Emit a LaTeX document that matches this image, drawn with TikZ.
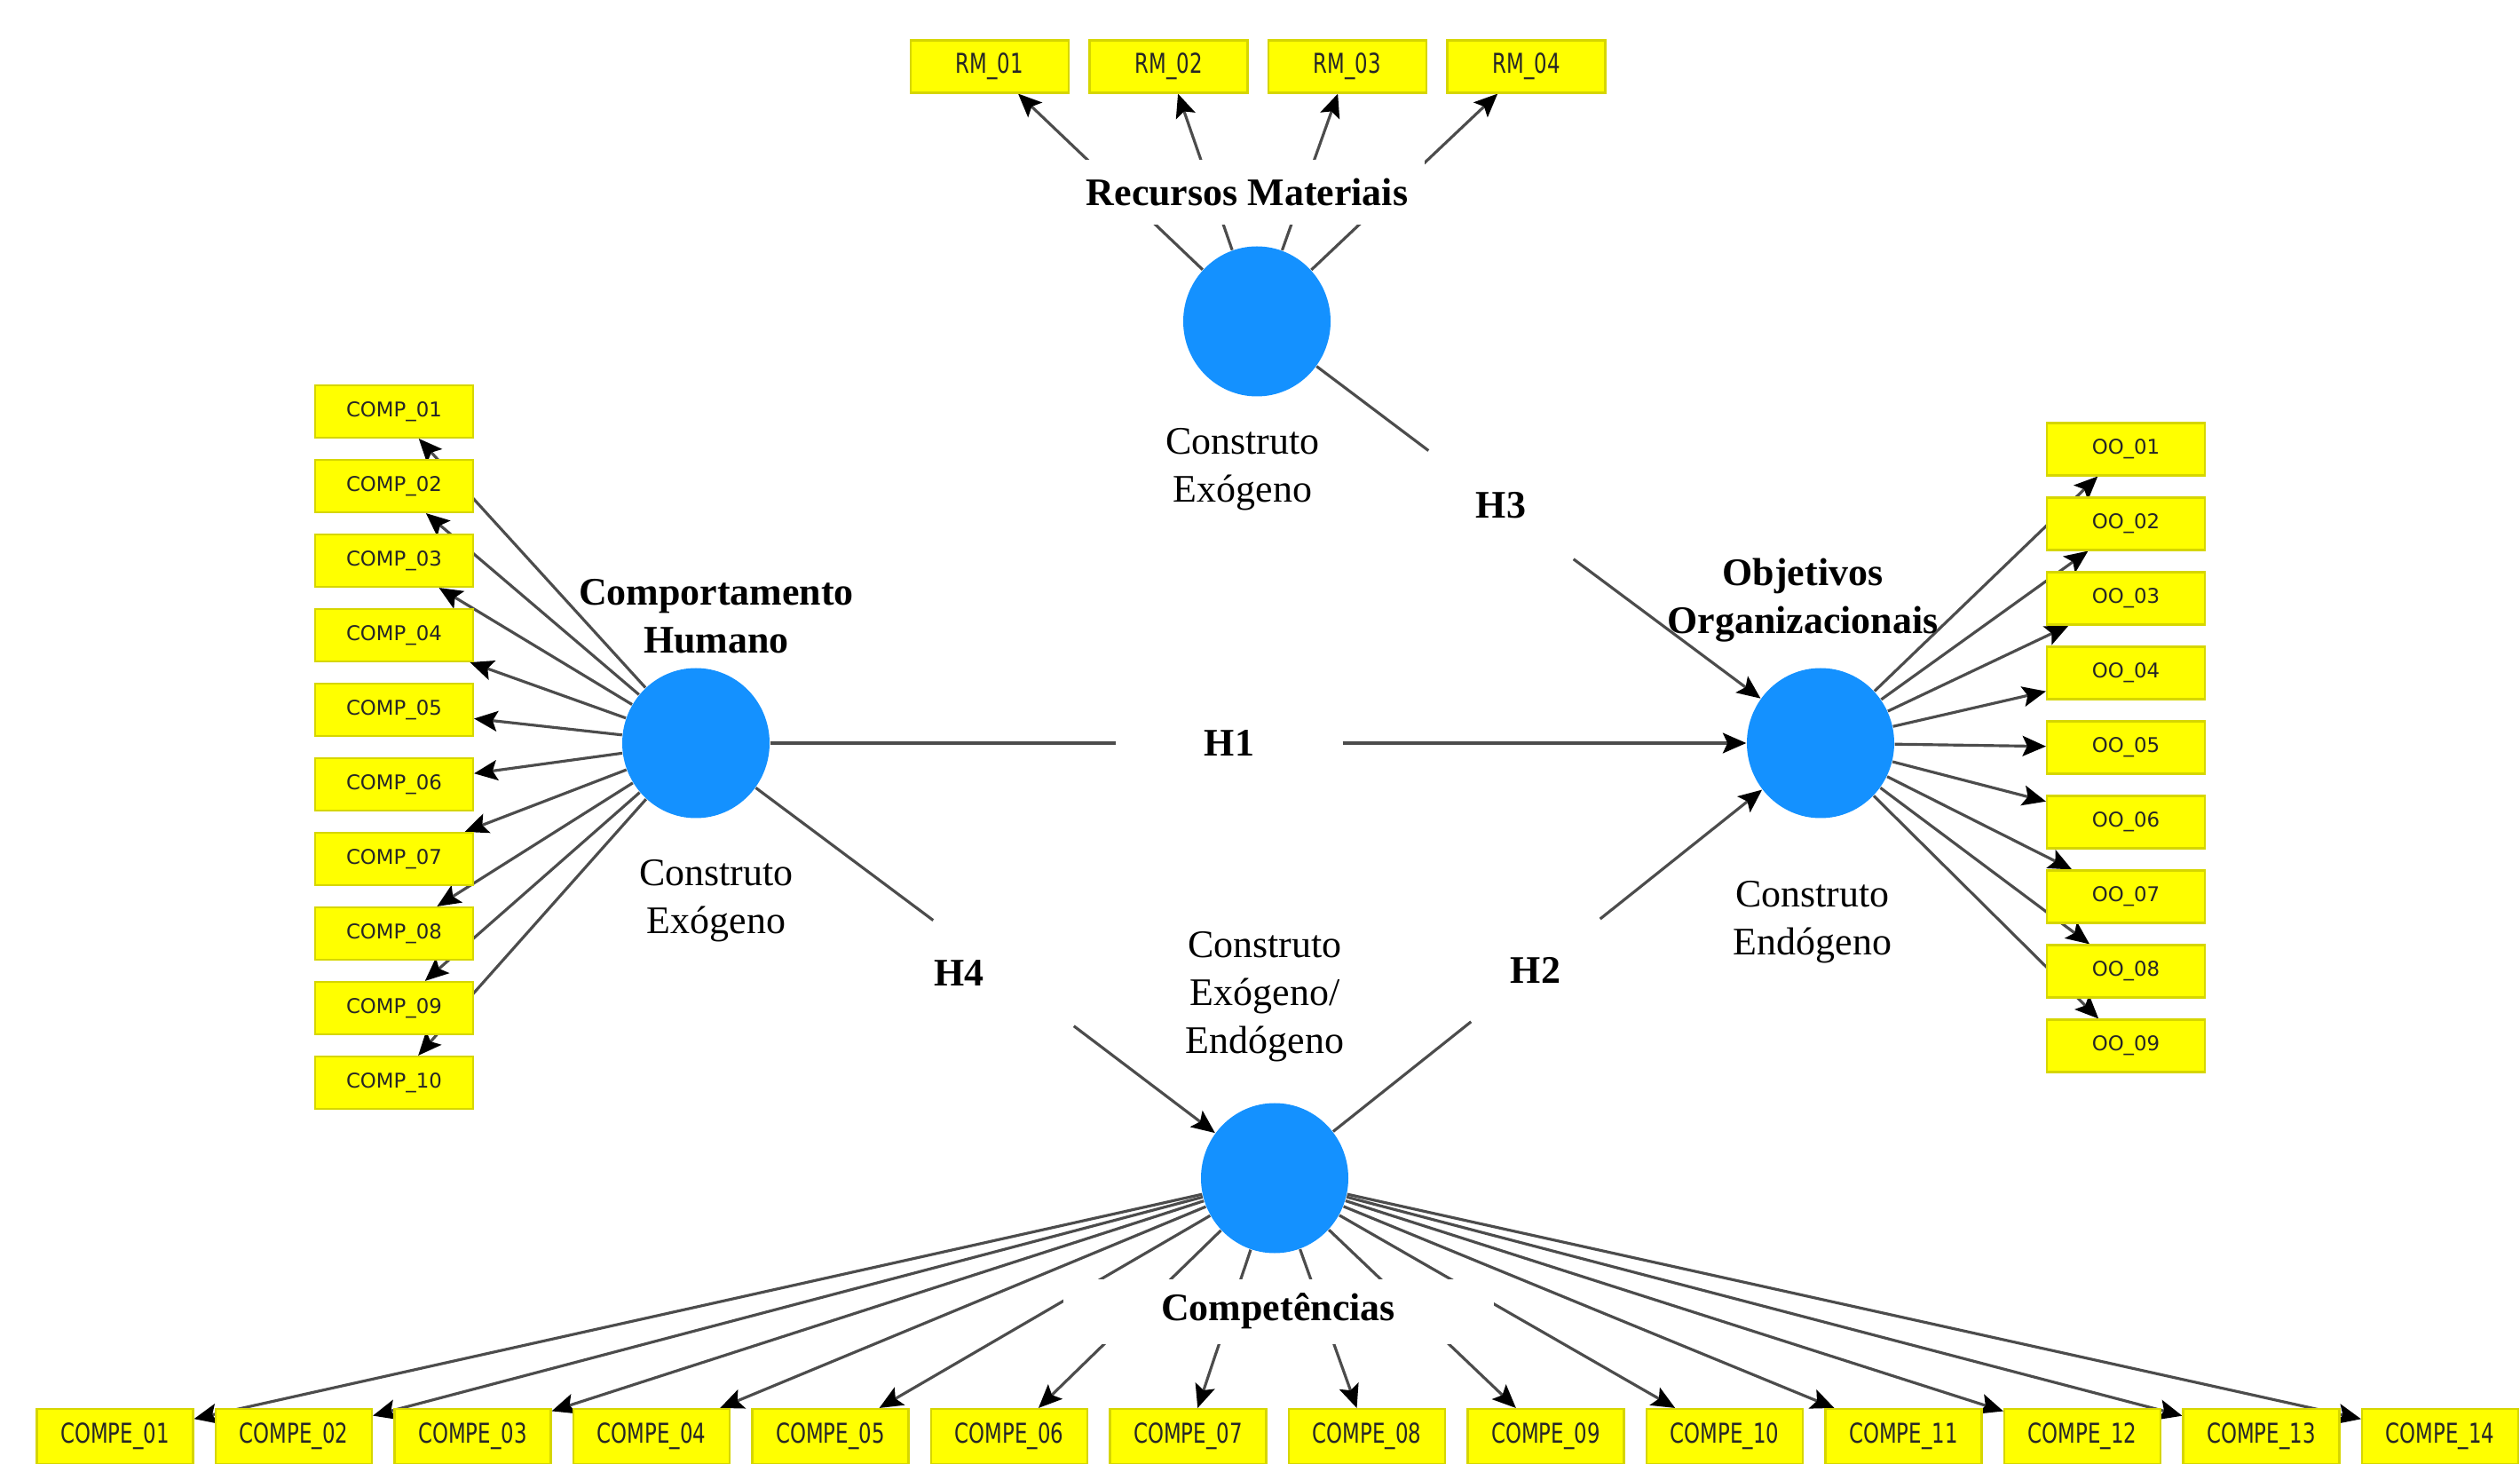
\documentclass[tikz,border=0pt]{standalone}
\usepackage{fontspec}
\usepackage{graphicx}
\setmainfont{Liberation Serif}
\newfontfamily\boxfont{DejaVu Sans}
\newcommand{\tallname}[1]{\scalebox{1}[1.35]{#1}}
\usetikzlibrary{shapes.geometric,arrows.meta,backgrounds}
\definecolor{lvblue}{RGB}{20,145,255}
\definecolor{mvyellow}{RGB}{255,255,0}
\definecolor{mvedge}{RGB}{214,214,0}

\begin{document}
\begin{tikzpicture}[node distance=2.015cm,
  construct/.style={ellipse, fill=lvblue, minimum width=1.66cm, minimum height=1.69cm},
  indicator/.style={rectangle, draw=mvedge, fill=mvyellow, line width=0.6pt, minimum width=1.78cm, minimum height=0.59cm, inner sep=0pt, text=black!85, font=\boxfont\fontsize{6.5}{7.5}\selectfont},
  colbox/.style={indicator, node distance=0.84cm},
  rowbox/.style={indicator, minimum width=1.76cm, minimum height=0.62cm},
  lvname/.style={font=\bfseries\fontsize{12.5}{15.4}\selectfont, align=center, inner sep=0pt},
  lvtype/.style={font=\fontsize{12.5}{15.4}\selectfont, align=center, inner sep=0pt},
  hyp/.style={font=\bfseries\fontsize{12.5}{15.4}\selectfont, inner sep=0pt},
  pathline/.style={draw=black!70, line width=0.9pt, -{Stealth[length=7.5pt, width=6.5pt, inset=1.5pt, color=black]}}]
\path[use as bounding box] (0,0) rectangle (28.39,-16.49);

% latent constructs
\node (rm)[construct] at (14.16,-3.62) {};
\node (ch)[construct] at (7.84,-8.37) {};
\node (oo)[construct] at (20.51,-8.37) {};
\node (cp)[construct] at (14.36,-13.27) {};

% Recursos Materiais indicators
\node (rm01)[indicator] at (11.15,-0.75) {\tallname{RM\_01}};
\node (rm02)[indicator] [right of = rm01] {\tallname{RM\_02}};
\node (rm03)[indicator] [right of = rm02] {\tallname{RM\_03}};
\node (rm04)[indicator] [right of = rm03] {\tallname{RM\_04}};

% Comportamento Humano indicators
\node (comp01)[colbox] at (4.44,-4.635) {COMP\_01};
\node (comp02)[colbox] [below of = comp01] {COMP\_02};
\node (comp03)[colbox] [below of = comp02] {COMP\_03};
\node (comp04)[colbox] [below of = comp03] {COMP\_04};
\node (comp05)[colbox] [below of = comp04] {COMP\_05};
\node (comp06)[colbox] [below of = comp05] {COMP\_06};
\node (comp07)[colbox] [below of = comp06] {COMP\_07};
\node (comp08)[colbox] [below of = comp07] {COMP\_08};
\node (comp09)[colbox] [below of = comp08] {COMP\_09};
\node (comp10)[colbox] [below of = comp09] {COMP\_10};

% Objetivos Organizacionais indicators
\node (oo01)[colbox] at (23.95,-5.06) {OO\_01};
\node (oo02)[colbox] [below of = oo01] {OO\_02};
\node (oo03)[colbox] [below of = oo02] {OO\_03};
\node (oo04)[colbox] [below of = oo03] {OO\_04};
\node (oo05)[colbox] [below of = oo04] {OO\_05};
\node (oo06)[colbox] [below of = oo05] {OO\_06};
\node (oo07)[colbox] [below of = oo06] {OO\_07};
\node (oo08)[colbox] [below of = oo07] {OO\_08};
\node (oo09)[colbox] [below of = oo08] {OO\_09};

% Competencias indicators
\node (compe01)[rowbox] at (1.295,-16.18) {\tallname{COMPE\_01}};
\node (compe02)[rowbox] [right of = compe01] {\tallname{COMPE\_02}};
\node (compe03)[rowbox] [right of = compe02] {\tallname{COMPE\_03}};
\node (compe04)[rowbox] [right of = compe03] {\tallname{COMPE\_04}};
\node (compe05)[rowbox] [right of = compe04] {\tallname{COMPE\_05}};
\node (compe06)[rowbox] [right of = compe05] {\tallname{COMPE\_06}};
\node (compe07)[rowbox] [right of = compe06] {\tallname{COMPE\_07}};
\node (compe08)[rowbox] [right of = compe07] {\tallname{COMPE\_08}};
\node (compe09)[rowbox] [right of = compe08] {\tallname{COMPE\_09}};
\node (compe10)[rowbox] [right of = compe09] {\tallname{COMPE\_10}};
\node (compe11)[rowbox] [right of = compe10] {\tallname{COMPE\_11}};
\node (compe12)[rowbox] [right of = compe11] {\tallname{COMPE\_12}};
\node (compe13)[rowbox] [right of = compe12] {\tallname{COMPE\_13}};
\node (compe14)[rowbox] [right of = compe13] {\tallname{COMPE\_14}};

% names and types
\node (rmname)[lvname, fill=white, minimum width=4cm, minimum height=0.73cm] at (14.05,-2.17) {Recursos Materiais};
\node (rmtype)[lvtype] at (14.0,-5.29) {Construto\\Exógeno};
\node (chname)[lvname] at (8.07,-6.94) {Comportamento\\Humano};
\node (chtype)[lvtype] at (8.07,-10.15) {Construto\\Exógeno};
\node (ooname)[lvname] at (20.31,-6.76) {Objetivos\\Organizacionais};
\node (ootype)[lvtype] at (20.42,-10.39) {Construto\\Endógeno};
\node (cptype)[lvtype] at (14.25,-11.23) {Construto\\Exógeno/\\Endógeno};
\node (cpname)[lvname, fill=white, minimum width=4.85cm, minimum height=0.73cm] at (14.4,-14.77) {Competências};

% hypotheses
\node (h1)[hyp, minimum width=2.54cm, minimum height=0.5cm] at (13.85,-8.37) {H1};
\node (h2)[hyp, minimum width=1.44cm, minimum height=1.22cm] at (17.30,-10.93) {H2};
\node (h3)[hyp, minimum width=1.62cm, minimum height=1.28cm] at (16.91,-5.69) {H3};
\node (h4)[hyp, text width=1.58cm, align=left, minimum height=1.18cm] at (11.31,-10.96) {H4};

\begin{scope}[on background layer]
\draw[pathline] (ch) -- (h1) -- (oo);
\draw[pathline] (cp) -- (h2) -- (oo);
\draw[pathline] (rm) -- (h3) -- (oo);
\draw[pathline] (ch) -- (h4) -- (cp);
\draw[pathline] (rm) -- (rm01);
\draw[pathline] (rm) -- (rm02);
\draw[pathline] (rm) -- (rm03);
\draw[pathline] (rm) -- (rm04);
\draw[pathline] (ch) -- (comp01);
\draw[pathline] (ch) -- (comp02);
\draw[pathline] (ch) -- (comp03);
\draw[pathline] (ch) -- (comp04);
\draw[pathline] (ch) -- (comp05);
\draw[pathline] (ch) -- (comp06);
\draw[pathline] (ch) -- (comp07);
\draw[pathline] (ch) -- (comp08);
\draw[pathline] (ch) -- (comp09);
\draw[pathline] (ch) -- (comp10);
\draw[pathline] (oo) -- (oo01);
\draw[pathline] (oo) -- (oo02);
\draw[pathline] (oo) -- (oo03);
\draw[pathline] (oo) -- (oo04);
\draw[pathline] (oo) -- (oo05);
\draw[pathline] (oo) -- (oo06);
\draw[pathline] (oo) -- (oo07);
\draw[pathline] (oo) -- (oo08);
\draw[pathline] (oo) -- (oo09);
\draw[pathline] (cp) -- (compe01);
\draw[pathline] (cp) -- (compe02);
\draw[pathline] (cp) -- (compe03);
\draw[pathline] (cp) -- (compe04);
\draw[pathline] (cp) -- (compe05);
\draw[pathline] (cp) -- (compe06);
\draw[pathline] (cp) -- (compe07);
\draw[pathline] (cp) -- (compe08);
\draw[pathline] (cp) -- (compe09);
\draw[pathline] (cp) -- (compe10);
\draw[pathline] (cp) -- (compe11);
\draw[pathline] (cp) -- (compe12);
\draw[pathline] (cp) -- (compe13);
\draw[pathline] (cp) -- (compe14);
\end{scope}
\end{tikzpicture}
\end{document}
